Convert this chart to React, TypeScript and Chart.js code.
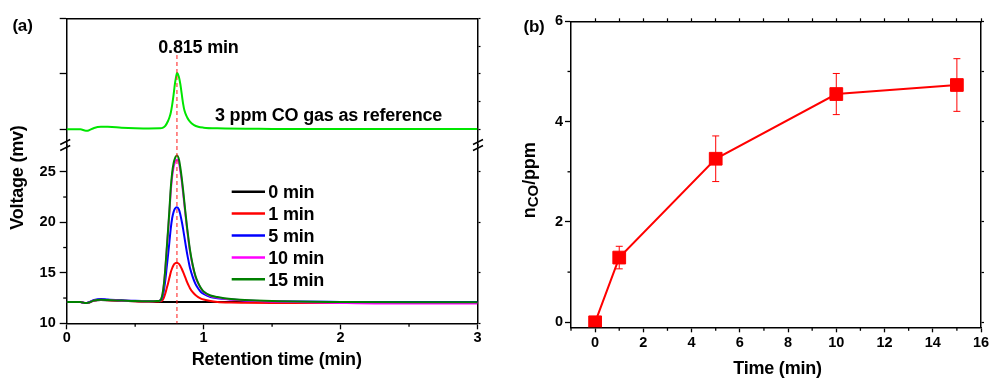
import React, { useEffect, useRef } from "react";
import { Chart, registerables } from "chart.js";

Chart.register(...registerables);

const FONT_FAMILY = "'Liberation Sans', Arial, Helvetica, sans-serif";

// ---------------- Panel (a): chromatograms ----------------
const RET_TIME = [0, 0.1, 0.14, 0.16, 0.2, 0.25, 0.3, 0.4, 0.5, 0.6,
  0.66, 0.68, 0.69, 0.7, 0.71, 0.72, 0.73, 0.74, 0.75, 0.76,
  0.77, 0.78, 0.79, 0.805, 0.82, 0.83, 0.84, 0.85, 0.86, 0.87,
  0.88, 0.89, 0.9, 0.92, 0.94, 0.96, 0.98, 1.0, 1.05, 1.1,
  1.2, 1.3, 1.5, 2.0, 2.5, 3.0];

const SIGNAL_0MIN = [12.1, 12.1, 12.0, 12.05, 12.25, 12.3, 12.28, 12.22, 12.18, 12.15,
  12.12, 12.12, 12.12, 12.12, 12.12, 12.12, 12.12, 12.12, 12.12, 12.12,
  12.12, 12.12, 12.12, 12.12, 12.12, 12.12, 12.12, 12.12, 12.12, 12.12,
  12.12, 12.12, 12.12, 12.12, 12.12, 12.12, 12.12, 12.12, 12.1, 12.1,
  12.1, 12.1, 12.1, 12.08, 12.08, 12.08];

const SIGNAL_1MIN = [12.1, 12.1, 12.0, 12.05, 12.25, 12.32, 12.28, 12.22, 12.18, 12.15,
  12.15, 12.17, 12.2, 12.3, 12.55, 12.95, 13.45, 13.95, 14.5, 15.05,
  15.45, 15.75, 15.92, 16.0, 15.88, 15.68, 15.4, 15.08, 14.75, 14.4,
  14.05, 13.75, 13.48, 13.08, 12.8, 12.6, 12.45, 12.35, 12.2, 12.12,
  12.06, 12.04, 12.02, 12.0, 12.0, 12.0];

const SIGNAL_5MIN = [12.1, 12.1, 12.0, 12.08, 12.3, 12.4, 12.35, 12.28, 12.22, 12.2,
  12.2, 12.23, 12.33, 12.65, 13.3, 14.25, 15.5, 16.75, 18.05, 19.4,
  20.4, 21.0, 21.35, 21.5, 21.25, 20.75, 20.1, 19.35, 18.5, 17.65,
  16.85, 16.15, 15.5, 14.6, 13.9, 13.45, 13.1, 12.9, 12.6, 12.48,
  12.35, 12.25, 12.18, 12.12, 12.1, 12.1];

const SIGNAL_10MIN = [12.1, 12.1, 12.0, 12.05, 12.25, 12.32, 12.3, 12.24, 12.2, 12.18,
  12.2, 12.25, 12.39, 12.88, 13.85, 15.3, 17.15, 19.0, 20.95, 23.05,
  24.5, 25.4, 25.9, 26.2, 25.85, 25.05, 24.1, 22.9, 21.65, 20.4,
  19.2, 18.1, 17.15, 15.7, 14.6, 13.95, 13.45, 13.1, 12.7, 12.55,
  12.35, 12.25, 12.15, 12.02, 11.95, 11.95];

const SIGNAL_15MIN = [12.1, 12.1, 12.0, 12.05, 12.25, 12.33, 12.3, 12.25, 12.2, 12.18,
  12.2, 12.25, 12.4, 12.9, 13.9, 15.4, 17.3, 19.2, 21.2, 23.4,
  24.9, 25.8, 26.3, 26.6, 26.2, 25.4, 24.4, 23.2, 21.9, 20.6,
  19.4, 18.3, 17.3, 15.8, 14.7, 14.0, 13.5, 13.15, 12.75, 12.6,
  12.4, 12.3, 12.2, 12.1, 12.08, 12.08];

const REF_TIME = [0, 0.1, 0.14, 0.16, 0.2, 0.25, 0.3, 0.4, 0.5, 0.6,
  0.68, 0.7, 0.72, 0.74, 0.75, 0.76, 0.77, 0.78, 0.79, 0.8,
  0.805, 0.81, 0.82, 0.83, 0.84, 0.85, 0.86, 0.88, 0.9, 0.93,
  0.96, 1.0, 1.1, 1.5, 2.0, 3.0];
const REF_SIGNAL = [12.0, 12.0, 11.9, 11.92, 12.1, 12.18, 12.18, 12.12, 12.08, 12.06,
  12.07, 12.1, 12.25, 12.6, 12.85, 13.2, 13.75, 14.45, 15.25, 15.85,
  16.05, 16.02, 15.75, 15.25, 14.55, 13.85, 13.35, 12.85, 12.55, 12.3,
  12.18, 12.12, 12.07, 12.03, 12.02, 12.02];

const SERIES_LABELS = ["0 min", "1 min", "5 min", "10 min", "15 min"];
const SERIES_COLORS = ["#000000", "#ff0000", "#0000ff", "#ff00ff", "#008000"];
const REF_COLOR = "#00e600";

const RET_TICKS = [0, 1, 2, 3];
const RET_MINOR = [0.5, 1.5, 2.5];
const VOLT_TICKS = [10, 15, 20, 25];
const VOLT_MINOR = [12.5, 17.5, 22.5];
const REF_TICKS = [12, 14, 16, 18, 20];
const PEAK_TIME = 0.805;
const PEAK_LABEL = "0.815 min";
const MARK_TOP_LEVEL = 17.35;

// ---------------- Panel (b): n_CO vs time ----------------
const TIME_MIN = [0, 1, 5, 10, 15];
const N_CO = [0, 1.29, 3.26, 4.55, 4.73];
const N_CO_ERR = [0, 0.225, 0.455, 0.41, 0.525];

const TIME_TICKS = [0, 2, 4, 6, 8, 10, 12, 14, 16];
const TIME_MINOR = [-1, 1, 3, 5, 7, 9, 11, 13, 15];
const TIME_TOP_TICKS = [0, 1, 2, 3, 4, 5, 6, 7, 8, 9, 10, 11, 12, 13, 14, 15, 16];
const NCO_TICKS = [0, 2, 4, 6];
const NCO_MINOR = [1, 3, 5];
const NCO_RIGHT_TICKS = [0, 1, 2, 3, 4, 5, 6];

// ---------------- helpers ----------------
const tickFont = { family: FONT_FAMILY, size: 14.5, weight: "bold" as const };
const axisBorder = { color: "#000", width: 1.5 };

const setTicks = (vals: number[]) => (axis: any) => {
  axis.ticks = vals.map((v) => ({ value: v }));
};
const fixSize = (dim: "width" | "height", size: number) => (s: any) => {
  s[dim] = size;
  s.paddingLeft = 0;
  s.paddingRight = 0;
  s.paddingTop = 0;
  s.paddingBottom = 0;
};

function line(ctx: CanvasRenderingContext2D, x1: number, y1: number, x2: number, y2: number) {
  ctx.beginPath();
  ctx.moveTo(x1, y1);
  ctx.lineTo(x2, y2);
  ctx.stroke();
}

function text(ctx: CanvasRenderingContext2D, s: string, x: number, y: number, size: number, align: CanvasTextAlign = "left") {
  ctx.font = `bold ${size}px ${FONT_FAMILY}`;
  ctx.fillStyle = "#000";
  ctx.textAlign = align;
  ctx.textBaseline = "alphabetic";
  (ctx as any).letterSpacing = "-0.2px";
  ctx.fillText(s, x, y);
  (ctx as any).letterSpacing = "0px";
}

const panelAOverlay = {
  id: "panelAOverlay",
  afterDatasetsDraw(chart: any) {
    const { ctx, scales, chartArea } = chart;
    const x = scales.x;
    const yTop = scales.yTop;
    const yBot = scales.yBot;
    ctx.save();

    // dashed marker line through the peak
    const px = x.getPixelForValue(PEAK_TIME);
    ctx.strokeStyle = "rgba(255,30,30,0.85)";
    ctx.lineWidth = 1.2;
    ctx.setLineDash([4, 3]);
    line(ctx, px, yTop.getPixelForValue(MARK_TOP_LEVEL), px, chartArea.bottom);
    ctx.setLineDash([]);

    // minor ticks
    ctx.strokeStyle = "#000";
    ctx.lineWidth = 1.3;
    RET_MINOR.forEach((v) => {
      const p = x.getPixelForValue(v);
      line(ctx, p, chartArea.bottom, p, chartArea.bottom + 3.5);
    });
    VOLT_MINOR.forEach((v) => {
      const p = yBot.getPixelForValue(v);
      line(ctx, chartArea.left - 3.5, p, chartArea.left, p);
    });

    // axis break marks
    const by = yTop.bottom;
    ctx.lineWidth = 1.4;
    [chartArea.left - 1.5, chartArea.right + 0.5].forEach((ax) => {
      [-3, 3].forEach((d) => line(ctx, ax - 5, by + d + 2.5, ax + 5, by + d - 2.5));
    });

    // legend
    const dsList = chart.data.datasets.filter((d: any) => d.yAxisID === "yBot");
    dsList.forEach((d: any, i: number) => {
      const cy = 191.7 + 21.9 * i;
      ctx.strokeStyle = d.borderColor;
      ctx.lineWidth = 2.5;
      line(ctx, 231.7, cy, 265, cy);
      text(ctx, d.label, 268.3, cy + 6.5, 18);
    });

    // annotations and titles
    text(ctx, "(a)", 22.5, 30.7, 17, "center");
    text(ctx, PEAK_LABEL, 158.3, 53.3, 18);
    text(ctx, "3 ppm CO gas as reference", 215, 120.7, 18);
    text(ctx, "Retention time (min)", 276.7, 364.5, 18, "center");
    ctx.save();
    ctx.translate(23, 177.5);
    ctx.rotate(-Math.PI / 2);
    text(ctx, "Voltage (mv)", 0, 0, 18, "center");
    ctx.restore();

    ctx.restore();
  },
};

const panelBOverlay = {
  id: "panelBOverlay",
  beforeDatasetsDraw(chart: any) {
    const { ctx, scales } = chart;
    const x = scales.x;
    const y = scales.y;
    ctx.save();
    ctx.strokeStyle = "#ff0000";
    ctx.lineWidth = 1;
    TIME_MIN.forEach((t, i) => {
      if (!N_CO_ERR[i]) return;
      const px = x.getPixelForValue(t);
      const top = y.getPixelForValue(N_CO[i] + N_CO_ERR[i]);
      const bot = y.getPixelForValue(N_CO[i] - N_CO_ERR[i]);
      line(ctx, px, top, px, bot);
      line(ctx, px - 3.5, top, px + 3.5, top);
      line(ctx, px - 3.5, bot, px + 3.5, bot);
    });
    ctx.restore();
  },
  afterDatasetsDraw(chart: any) {
    const { ctx, scales, chartArea } = chart;
    const x = scales.x;
    const y = scales.y;
    ctx.save();
    ctx.strokeStyle = "#000";
    ctx.lineWidth = 1.3;
    TIME_MINOR.forEach((v) => {
      const p = x.getPixelForValue(v);
      line(ctx, p, chartArea.bottom, p, chartArea.bottom + 3.5);
    });
    NCO_MINOR.forEach((v) => {
      const p = y.getPixelForValue(v);
      line(ctx, chartArea.left - 3.5, p, chartArea.left, p);
    });

    text(ctx, "(b)", 39, 31.5, 17, "center");
    text(ctx, "Time (min)", 282.5, 373.5, 18, "center");

    // rotated y title: n_CO/ppm
    ctx.save();
    ctx.translate(39.5, 180);
    ctx.rotate(-Math.PI / 2);
    ctx.font = `bold 18px ${FONT_FAMILY}`;
    const wN = ctx.measureText("n").width;
    const wP = ctx.measureText("/ppm").width;
    ctx.font = `bold 15px ${FONT_FAMILY}`;
    const wC = ctx.measureText("CO").width;
    let cx = -(wN + wC + wP) / 2;
    text(ctx, "n", cx, 0, 18);
    cx += wN;
    text(ctx, "CO", cx, 3.5, 15);
    cx += wC;
    text(ctx, "/ppm", cx, 0, 18);
    ctx.restore();

    ctx.restore();
  },
};

function curve(label: string, vals: number[], color: string, order: number) {
  return {
    label,
    data: RET_TIME.map((t, i) => ({ x: t, y: vals[i] })),
    borderColor: color,
    backgroundColor: color,
    borderWidth: 2,
    pointRadius: 0,
    cubicInterpolationMode: "monotone" as const,
    fill: false,
    xAxisID: "x",
    yAxisID: "yBot",
    order,
  };
}

function configA(): any {
  const series = [SIGNAL_0MIN, SIGNAL_1MIN, SIGNAL_5MIN, SIGNAL_10MIN, SIGNAL_15MIN];
  const orders = [4, 3, 2, 1, 0];
  const datasets: any[] = series.map((s, i) => curve(SERIES_LABELS[i], s, SERIES_COLORS[i], orders[i]));
  datasets.push({
    label: "3 ppm CO reference",
    data: REF_TIME.map((t, i) => ({ x: t, y: REF_SIGNAL[i] })),
    borderColor: REF_COLOR,
    backgroundColor: REF_COLOR,
    borderWidth: 2,
    pointRadius: 0,
    cubicInterpolationMode: "monotone",
    fill: false,
    xAxisID: "x",
    yAxisID: "yTop",
    order: 0,
  });
  const mirrorGrid = { drawOnChartArea: false, tickLength: 3, tickColor: "#000", tickWidth: 1.2 };
  return {
    type: "line",
    data: { datasets },
    plugins: [panelAOverlay],
    options: {
      responsive: false,
      animation: false,
      events: [],
      layout: { padding: 0 },
      plugins: { legend: { display: false }, tooltip: { enabled: false }, title: { display: false } },
      scales: {
        x: {
          type: "linear", position: "bottom", min: 0, max: 3,
          afterBuildTicks: setTicks(RET_TICKS),
          afterFit: fixSize("height", 54.7),
          ticks: { font: tickFont, color: "#000", padding: 0, maxRotation: 0, autoSkip: false, callback: (v: number) => String(v) },
          grid: { drawOnChartArea: false, tickLength: 6, tickColor: "#000", tickWidth: 1.3 },
          border: axisBorder,
        },
        xTop: {
          type: "linear", position: "top", min: 0, max: 3,
          afterFit: fixSize("height", 18.3),
          ticks: { display: false },
          grid: { drawOnChartArea: false, drawTicks: false },
          border: axisBorder,
        },
        yBot: {
          type: "linear", position: "left", stack: "L", stackWeight: 178.3, min: 10, max: 27.65,
          afterBuildTicks: setTicks(VOLT_TICKS),
          afterFit: fixSize("width", 66.7),
          ticks: { font: tickFont, color: "#000", padding: 4, callback: (v: number) => String(v) },
          grid: { drawOnChartArea: false, tickLength: 7, tickColor: "#000", tickWidth: 1.3 },
          border: axisBorder,
        },
        yTop: {
          type: "linear", position: "left", stack: "L", stackWeight: 126.7, min: 10.87, max: 20,
          afterBuildTicks: setTicks(REF_TICKS),
          afterFit: fixSize("width", 66.7),
          ticks: { font: tickFont, color: "#000", padding: 4, callback: () => "" },
          grid: { drawOnChartArea: false, tickLength: 7, tickColor: "#000", tickWidth: 1.3 },
          border: axisBorder,
        },
        yTopR: {
          type: "linear", position: "right", stack: "R", stackWeight: 126.7, min: 10.87, max: 20,
          afterBuildTicks: setTicks(REF_TICKS),
          afterFit: fixSize("width", 17.5),
          ticks: { display: false },
          grid: mirrorGrid,
          border: axisBorder,
        },
        yBotR: {
          type: "linear", position: "right", stack: "R", stackWeight: 178.3, min: 10, max: 27.65,
          afterBuildTicks: setTicks(VOLT_TICKS),
          afterFit: fixSize("width", 17.5),
          ticks: { display: false },
          grid: mirrorGrid,
          border: axisBorder,
        },
      },
    },
  };
}

function configB(): any {
  const mirrorGrid = { drawOnChartArea: false, tickLength: 3, tickColor: "#000", tickWidth: 1.2 };
  return {
    type: "line",
    data: {
      datasets: [
        {
          label: "n_CO",
          data: TIME_MIN.map((t, i) => ({ x: t, y: N_CO[i] })),
          borderColor: "#ff0000",
          backgroundColor: "#ff0000",
          borderWidth: 2,
          tension: 0,
          pointStyle: "rect",
          pointRadius: 9,
          pointBorderWidth: 1,
          pointBackgroundColor: "#ff0000",
          pointBorderColor: "#ff0000",
          xAxisID: "x",
          yAxisID: "y",
        },
      ],
    },
    plugins: [panelBOverlay],
    options: {
      responsive: false,
      animation: false,
      events: [],
      layout: { padding: 0 },
      plugins: { legend: { display: false }, tooltip: { enabled: false }, title: { display: false } },
      scales: {
        x: {
          type: "linear", position: "bottom", min: -1, max: 16,
          afterBuildTicks: setTicks(TIME_TICKS),
          afterFit: fixSize("height", 50.7),
          ticks: { font: tickFont, color: "#000", padding: 2, maxRotation: 0, autoSkip: false, callback: (v: number) => String(v) },
          grid: { drawOnChartArea: false, tickLength: 5, tickColor: "#000", tickWidth: 1.3 },
          border: axisBorder,
        },
        xTop: {
          type: "linear", position: "top", min: -1, max: 16,
          afterBuildTicks: setTicks(TIME_TOP_TICKS),
          afterFit: fixSize("height", 21.3),
          ticks: { display: false },
          grid: mirrorGrid,
          border: axisBorder,
        },
        y: {
          type: "linear", position: "left", min: -0.1, max: 6,
          afterBuildTicks: setTicks(NCO_TICKS),
          afterFit: fixSize("width", 76),
          ticks: { font: tickFont, color: "#000", padding: 2, callback: (v: number) => String(v) },
          grid: { drawOnChartArea: false, tickLength: 6, tickColor: "#000", tickWidth: 1.3 },
          border: axisBorder,
        },
        yR: {
          type: "linear", position: "right", min: -0.1, max: 6,
          afterBuildTicks: setTicks(NCO_RIGHT_TICKS),
          afterFit: fixSize("width", 9.3),
          ticks: { display: false },
          grid: mirrorGrid,
          border: axisBorder,
        },
      },
    },
  };
}

export default function App() {
  const refA = useRef<HTMLCanvasElement>(null);
  const refB = useRef<HTMLCanvasElement>(null);

  useEffect(() => {
    Chart.defaults.font.family = FONT_FAMILY;
    const a = new Chart(refA.current as HTMLCanvasElement, configA());
    const b = new Chart(refB.current as HTMLCanvasElement, configB());
    return () => {
      a.destroy();
      b.destroy();
    };
  }, []);

  return (
    <div style={{ position: "absolute", left: 0, top: 0, width: 991, height: 378, background: "#fff" }}>
      <canvas ref={refA} width={495} height={378} style={{ position: "absolute", left: 0, top: 0 }} />
      <canvas ref={refB} width={496} height={378} style={{ position: "absolute", left: 495, top: 0 }} />
    </div>
  );
}
